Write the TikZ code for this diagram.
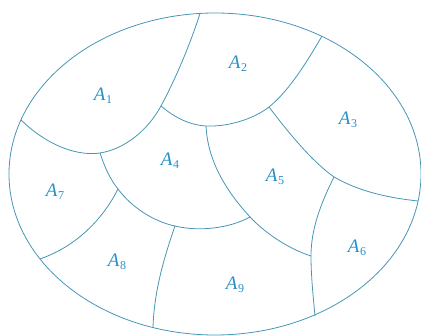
\documentclass[tikz,border=0pt]{standalone}
\usepackage{fontspec}
\setmainfont{Liberation Serif}
\definecolor{linec}{RGB}{70,150,180}
\definecolor{textc}{RGB}{40,145,200}
\newcommand\regionlabel[1]{\textit{A}\kern0.5pt\raisebox{-0.35ex}{\fontsize{12}{12}\selectfont #1}}
\tikzset{
  boundary/.style={draw=linec, line width=0.8pt},
  region/.style={text=textc, font=\fontsize{19}{20}\selectfont, inner sep=0pt}
}
\begin{document}
\begin{tikzpicture}[x=1pt,y=-1pt]
\useasboundingbox (0,0) rectangle (421,336);
% outer ellipse
\draw[boundary] (215,174) ellipse [x radius=206pt, y radius=161pt];
% junction coordinates
\coordinate (e1) at (21,120);
\coordinate (e2) at (200,13.4);
\coordinate (e3) at (322,36);
\coordinate (e4) at (418,201);
\coordinate (e5) at (315,316);
\coordinate (e6) at (153,328);
\coordinate (e7) at (40,259);
\coordinate (j1) at (161,106);
\coordinate (j2) at (206,126);
\coordinate (j3) at (269,107);
\coordinate (j4) at (334,177);
\coordinate (j5) at (311,256);
\coordinate (j6) at (250,217);
\coordinate (j7) at (175,226);
\coordinate (j8) at (118,189);
\coordinate (j9) at (100,153);
% inner boundaries
\draw[boundary] (e1) .. controls (50,148) and (80,156) .. (j9)
                     .. controls (125,149) and (148,130) .. (j1)
                     .. controls (175,80) and (190,45) .. (e2);
\draw[boundary] (j1) .. controls (175,118) and (190,125) .. (j2)
                     .. controls (230,127) and (255,118) .. (j3)
                     .. controls (290,90) and (308,60) .. (e3);
\draw[boundary] (j2) .. controls (208,165) and (230,195) .. (j6)
                     .. controls (268,236) and (292,250) .. (j5);
\draw[boundary] (j3) .. controls (285,128) and (310,160) .. (j4)
                     .. controls (360,192) and (390,198) .. (e4);
\draw[boundary] (j4) .. controls (320,205) and (311,230) .. (j5)
                     .. controls (311,275) and (313,295) .. (e5);
\draw[boundary] (j9) .. controls (105,168) and (110,179) .. (j8)
                     .. controls (132,208) and (155,222) .. (j7)
                     .. controls (200,232) and (230,228) .. (j6);
\draw[boundary] (j8) .. controls (105,215) and (80,245) .. (e7);
\draw[boundary] (j7) .. controls (165,255) and (154,290) .. (e6);
% labels
\node[region] (a1) at (103,96) {\regionlabel{1}};
\node[region] (a2) at (238,64) {\regionlabel{2}};
\node[region] (a3) at (348,120) {\regionlabel{3}};
\node[region] (a4) at (170,161) {\regionlabel{4}};
\node[region] (a5) at (275,177) {\regionlabel{5}};
\node[region] (a6) at (357,248) {\regionlabel{6}};
\node[region] (a7) at (55,192) {\regionlabel{7}};
\node[region] (a8) at (117,262) {\regionlabel{8}};
\node[region] (a9) at (235,285) {\regionlabel{9}};
\end{tikzpicture}
\end{document}
